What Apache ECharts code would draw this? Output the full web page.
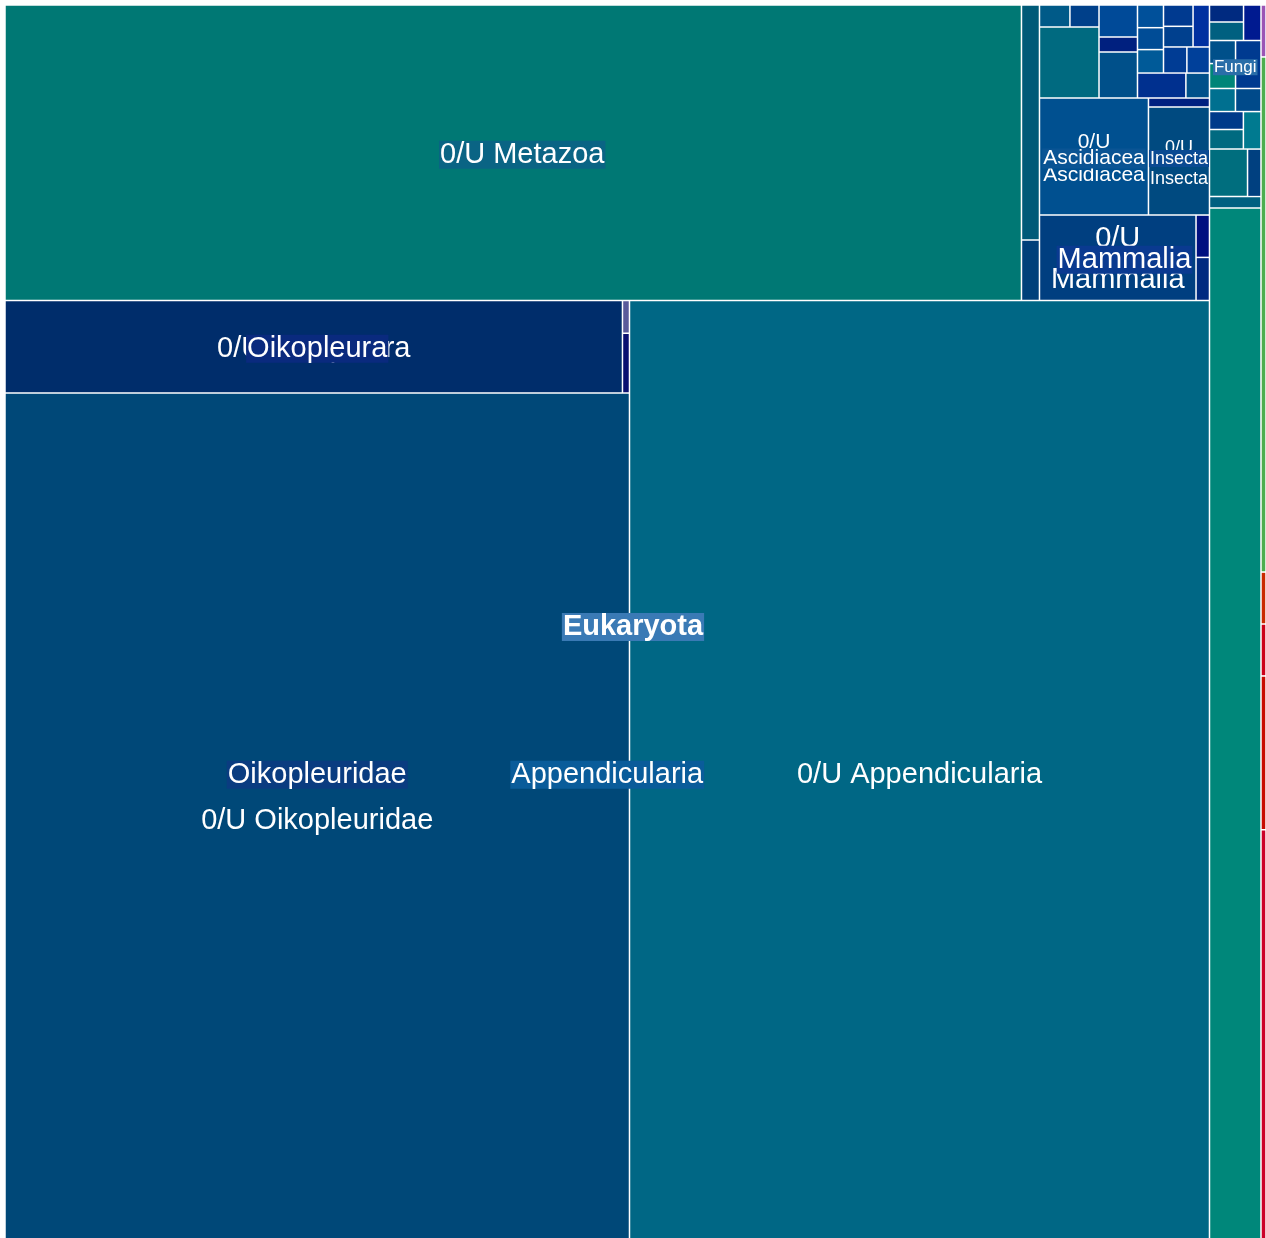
<!DOCTYPE html>
<html>
<head>
<meta charset="utf-8">
<title>Eukaryota treemap</title>
<script src="https://cdn.jsdelivr.net/npm/echarts@6.0.0/dist/echarts.min.js"></script>
<style>
  html, body { margin: 0; padding: 0; background: #fff; }
  #chart { width: 1266px; height: 1238px; }
</style>
</head>
<body>
<div id="chart"></div>
<script>
// taxon, its parent ('' = top level) and reads assigned directly to it (0 = only through children)
const taxa = [
  'Eukaryota', 'taxon 1', 'taxon 2', 'taxon 3',
  'taxon 4', 'taxon 5', 'taxon 6', 'taxon 7',
  'Metazoa', 'Fungi', 'taxon 8', 'taxon 9', 'taxon 10', '0/U Eukaryota',
  'taxon 11', 'taxon 12', 'taxon 13', 'taxon 14', 'taxon 15', 'taxon 16', 'taxon 17', 'taxon 18', 'taxon 19', 'taxon 20',
  'taxon 21', 'taxon 22', 'taxon 23', 'taxon 24',
  'taxon 25', 'taxon 26',
  'taxon 27', 'Appendicularia',
  '0/U Metazoa', 'taxon 28', 'taxon 29', 'taxon 30',
  'taxon 31', 'taxon 32', 'Ascidiacea', 'Insecta', 'Mammalia',
  'taxon 33', 'taxon 34', 'taxon 35', 'taxon 36', 'taxon 37',
  'taxon 38', 'taxon 39', 'taxon 40', 'taxon 41',
  'taxon 42', 'taxon 43', 'taxon 44', 'taxon 45', 'taxon 46',
  'taxon 47', 'taxon 48', 'taxon 49', 'taxon 50', 'taxon 51', 'taxon 52', 'taxon 53', 'taxon 54',
  'taxon 55', 'taxon 56',
  '0/U Ascidiacea', 'taxon 57', '0/U Insecta', '0/U Mammalia', 'taxon 58', 'taxon 59',
  'Oikopleuridae', '0/U Appendicularia', 'Oikopleura', '0/U Oikopleuridae', '0/U Oikopleura', 'taxon 60', 'taxon 61'
]
const parents = [
  '', '', '', '',
  'taxon 3', 'taxon 3', 'taxon 3', 'taxon 3',
  'Eukaryota', 'Eukaryota', 'Eukaryota', 'Eukaryota', 'Eukaryota', 'Eukaryota',
  'Fungi', 'taxon 11', 'taxon 11', 'Fungi', 'Fungi', 'taxon 15', 'taxon 15', 'Fungi', 'Fungi', 'Fungi',
  'taxon 8', 'taxon 21', 'taxon 21', 'taxon 8',
  'taxon 9', 'taxon 9',
  'Metazoa', 'Metazoa',
  'taxon 27', '0/U Metazoa', '0/U Metazoa', '0/U Metazoa',
  'taxon 27', 'taxon 31', 'taxon 31', 'taxon 31', 'taxon 31',
  'taxon 32', 'taxon 33', 'taxon 34', 'taxon 34', 'taxon 33',
  'taxon 32', 'taxon 38', 'taxon 38', 'taxon 38',
  'taxon 32', 'taxon 42', 'taxon 43', 'taxon 43', 'taxon 43',
  'taxon 42', 'taxon 47', 'taxon 48', 'taxon 49', 'taxon 49', 'taxon 48', 'taxon 47', 'taxon 47',
  'taxon 42', 'taxon 42',
  'Ascidiacea', 'Insecta', 'Insecta', 'Mammalia', 'Mammalia', 'Mammalia',
  'Appendicularia', 'Appendicularia', 'Oikopleuridae', 'Oikopleuridae', 'Oikopleura', 'Oikopleura', 'Oikopleura'
]
const reads = [
  0, 26, 258, 0,
  26, 26, 77, 208,
  0, 0, 0, 0, 59, 5341,
  0, 58, 63, 62, 0, 60, 65, 122, 60, 59,
  0, 61, 66, 66,
  181, 64,
  0, 0,
  0, 30038, 423, 109,
  0, 0, 0, 0, 0,
  0, 0, 67, 64, 423,
  0, 123, 58, 177,
  0, 0, 59, 57, 61,
  0, 0, 0, 63, 61, 69, 61, 59,
  121, 59,
  1275, 55, 659, 1338, 57, 58,
  0, 54781, 0, 53207, 5712, 23, 42
]

const FONT = "'Liberation Sans', Arial, sans-serif"
const LABEL_DY = 2

const taxonColors = {
  'taxon 1': '#9b55b5', 'taxon 2': '#4cae4f',
  'taxon 4': '#c92a00', 'taxon 5': '#cc0018', 'taxon 6': '#c80a00', 'taxon 7': '#cc0028',
  'taxon 10': '#006080', '0/U Eukaryota': '#00877a',
  'taxon 12': '#002a80', 'taxon 13': '#006080', 'taxon 14': '#001a90',
  'taxon 16': '#00508a', 'taxon 17': '#008578', 'taxon 18': '#003a90',
  'taxon 19': '#007090', 'taxon 20': '#004a8a',
  'taxon 22': '#003a8a', 'taxon 23': '#006a80', 'taxon 24': '#007a90',
  'taxon 25': '#006e7e', 'taxon 26': '#004080',
  'taxon 28': '#007874', 'taxon 29': '#005a78', 'taxon 30': '#00407a',
  'taxon 35': '#005a88', 'taxon 36': '#00408a', 'taxon 37': '#006a80',
  'taxon 39': '#004a98', 'taxon 40': '#00207f', 'taxon 41': '#00508a',
  'taxon 44': '#00509a', 'taxon 45': '#004c96', 'taxon 46': '#005a98',
  'taxon 50': '#003a90', 'taxon 51': '#00408e', 'taxon 52': '#0030a0',
  'taxon 53': '#003c94', 'taxon 54': '#00409a', 'taxon 55': '#00308f', 'taxon 56': '#00508a',
  '0/U Ascidiacea': '#005090', 'taxon 57': '#002080', '0/U Insecta': '#004a80',
  '0/U Mammalia': '#003f80', 'taxon 58': '#001080', 'taxon 59': '#002a80',
  '0/U Appendicularia': '#006785', '0/U Oikopleuridae': '#004878',
  '0/U Oikopleura': '#002d6b', 'taxon 60': '#5a5a9a', 'taxon 61': '#0a1070'
}

// labels written inside leaves
const leafLabelStyle = {
  '0/U Oikopleura': { size: 29 },
  '0/U Oikopleuridae': { size: 29 },
  '0/U Appendicularia': { size: 29 },
  '0/U Ascidiacea': { size: 21, lh: 33, wrap: true },
  '0/U Insecta': { size: 18, lh: 31, wrap: true },
  '0/U Mammalia': { size: 29, lh: 41, wrap: true }
}
// labels of groups, centred on the group and drawn over the leaves (in this order)
const groupLabelStyle = {
  '0/U Metazoa': { size: 29, bg: '#0a6484' },
  'Fungi': { size: 17, bg: '#2a6ea8', dy: 7 },
  'Mammalia': { size: 29, bg: '#0a3a90' },
  'Insecta': { size: 18, bg: '#0a4a92' },
  'Ascidiacea': { size: 21, bg: '#0a5494' },
  'Oikopleura': { size: 29, bg: '#0a2a7e' },
  'Oikopleuridae': { size: 29, bg: '#0a3c80' },
  'Appendicularia': { size: 29, bg: '#0a5c9a' },
  'Eukaryota': { size: 29, bg: '#3a7ab5', bold: true }
}

function buildTree() {
  const nodes = {}
  const roots = []
  taxa.forEach(name => { nodes[name] = { name, children: [] } })
  taxa.forEach((name, i) => {
    const node = nodes[name]
    if (reads[i] > 0) node.value = reads[i]
    if (parents[i]) nodes[parents[i]].children.push(node)
    else roots.push(node)
  })
  Object.values(nodes).forEach(node => {
    if (node.children.length) return
    delete node.children
    node.itemStyle = { color: taxonColors[node.name], borderWidth: 0.75 }
    const ls = leafLabelStyle[node.name]
    if (ls) {
      node.label = { show: true, fontSize: ls.size, lineHeight: ls.lh || ls.size }
    }
  })
  return roots
}

const chart = echarts.init(document.getElementById('chart'))
chart.setOption({
  animation: false,
  series: [{
    type: 'treemap',
    left: 5,
    top: 5,
    // the plot runs a little past the bottom of the page, as in the original
    width: 1261,
    height: 1240,
    roam: false,
    nodeClick: false,
    breadcrumb: { show: false },
    sort: false,
    squareRatio: 1,
    itemStyle: { borderColor: '#fff', borderWidth: 0, gapWidth: 0 },
    upperLabel: { show: false },
    label: {
      show: false,
      position: 'inside',
      align: 'center',
      verticalAlign: 'middle',
      offset: [0, LABEL_DY],
      padding: 0,
      color: '#fff',
      fontFamily: FONT,
      overflow: 'none',
      formatter(p) {
        const ls = leafLabelStyle[p.name]
        return ls && ls.wrap ? p.name.replace(' ', '\n') : p.name
      }
    },
    data: buildTree()
  }]
})

// group labels: placed at the centre of each group's laid-out rectangle
try {
  const seriesModel = chart.getModel().getSeriesByIndex(0)
  const tree = seriesModel.getData().tree
  const info = seriesModel.layoutInfo || { x: 5, y: 5 }
  const byName = {}
  tree.root.eachNode(n => { byName[n.name] = n })
  const absRect = node => {
    let x = info.x
    let y = info.y
    for (let n = node; n; n = n.parentNode) {
      const l = n.getLayout()
      if (l) { x += l.x || 0; y += l.y || 0 }
    }
    const l = node.getLayout()
    return { x, y, w: l.width, h: l.height }
  }
  const graphics = Object.keys(groupLabelStyle).map((name, k) => {
    const st = groupLabelStyle[name]
    const r = absRect(byName[name])
    return {
      type: 'text',
      z: 100 + k,
      x: r.x + r.w / 2,
      y: r.y + r.h / 2 + LABEL_DY + (st.dy || 0),
      style: {
        text: name,
        fill: '#fff',
        fontSize: st.size,
        fontFamily: FONT,
        fontWeight: st.bold ? 'bold' : 'normal',
        align: 'center',
        verticalAlign: 'middle',
        lineHeight: st.size - 1,
        backgroundColor: st.bg,
        padding: [0, 1]
      }
    }
  })
  chart.setOption({ graphic: graphics })
} catch (e) {
  console.error(e)
}
</script>
</body>
</html>
